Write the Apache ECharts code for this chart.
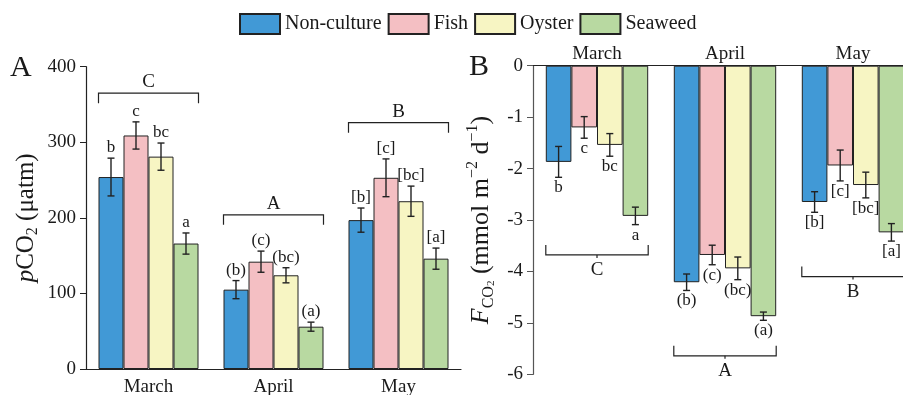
<!DOCTYPE html>
<html><head><meta charset="utf-8">
<script src="https://cdn.jsdelivr.net/npm/echarts@6/dist/echarts.min.js"></script>
<style>html,body{margin:0;padding:0;background:#fff}#c{width:903px;height:395px}</style>
</head><body><div id="c"></div>
<script>
const months = ['March', 'April', 'May'];
const seriesNames = ['Non-culture', 'Fish', 'Oyster', 'Seaweed'];
const colors = ['#4199d6', '#f4bfc3', '#f7f5c3', '#b8d9a1'];

// Panel A: pCO2 (μatm); one row per treatment, one value per month
const pco2 = [[254, 105, 197], [309, 142, 253], [281, 124, 222], [166, 56, 146]];
const pco2Err = [[25, 12, 16], [18, 14, 25], [18, 10, 20], [14, 6, 14]];
const pco2Letters = [['b', '(b)', '[b]'], ['c', '(c)', '[c]'], ['bc', '(bc)', '[bc]'], ['a', '(a)', '[a]']];
const pco2Groups = ['C', 'A', 'B'];
const pco2GroupLevel = [365, 204, 326];
const pco2Ticks = [0, 100, 200, 300, 400];

// Panel B: F_CO2 (mmol m-2 d-1)
const flux = [[-1.87, -4.21, -2.65], [-1.20, -3.68, -1.94], [-1.54, -3.94, -2.32], [-2.92, -4.87, -3.24]];
const fluxErr = [[0.30, 0.16, 0.20], [0.21, 0.19, 0.30], [0.22, 0.22, 0.25], [0.17, 0.08, 0.17]];
const fluxLetters = [['b', '(b)', '[b]'], ['c', '(c)', '[c]'], ['bc', '(bc)', '[bc]'], ['a', '(a)', '[a]']];
const fluxGroups = ['C', 'A', 'B'];
const fluxGroupLevel = [-3.68, -5.64, -4.10];
const fluxTicks = [-6, -5, -4, -3, -2, -1, 0];

const FONT = '"Liberation Serif", "Times New Roman", serif';
const INK = '#1a1a1a';

function errData(vals, errs) {
  const d = [];
  vals.forEach((row, s) => row.forEach((v, m) => d.push([m, s, v, errs[s][m]])));
  return d;
}
function errRender(letters, below) {
  return function (params, api) {
    const m = api.value(0), s = api.value(1), v = api.value(2), e = api.value(3);
    const bw = api.size([1, 0])[0] * 0.8 / 4;
    const c = api.coord([m, v]);
    const x = c[0] + (s - 1.5) * bw;
    const yTop = api.coord([m, v + e])[1];
    const yBot = api.coord([m, v - e])[1];
    const cap = 3.5;
    const st = { stroke: '#222', lineWidth: 1.4 };
    const txt = letters[s][m];
    return {
      type: 'group',
      children: [
        { type: 'line', shape: { x1: x, y1: yTop, x2: x, y2: yBot }, style: st },
        { type: 'line', shape: { x1: x - cap, y1: yTop, x2: x + cap, y2: yTop }, style: st },
        { type: 'line', shape: { x1: x - cap, y1: yBot, x2: x + cap, y2: yBot }, style: st },
        {
          type: 'text', style: {
            text: txt, x: x, y: below ? yBot + 2 : yTop - 2,
            align: 'center', verticalAlign: below ? 'top' : 'bottom',
            font: '17px ' + FONT, fill: INK
          }
        }
      ]
    };
  };
}
function bracketRender(labels, below) {
  return function (params, api) {
    const m = api.value(0), lv = api.value(1);
    const bw = api.size([1, 0])[0] * 0.8 / 4;
    const c = api.coord([m, lv]);
    const x1 = c[0] - 2 * bw, x2 = c[0] + 2 * bw, y = c[1];
    const t = below ? -10 : 10;
    const st = { stroke: '#222', lineWidth: 1.2 };
    const ch = [
      { type: 'polyline', shape: { points: [[x1, y + t], [x1, y], [x2, y], [x2, y + t]] }, style: Object.assign({ fill: null }, st) },
      {
        type: 'text', style: {
          text: labels[m], x: c[0], y: below ? y + 15 : y - 11,
          align: 'center', verticalAlign: 'middle', font: '19px ' + FONT, fill: INK
        }
      }
    ];
    if (below) ch.push({ type: 'line', shape: { x1: c[0], y1: y, x2: c[0], y2: y + 3 }, style: st });
    return { type: 'group', children: ch };
  };
}

const series = [];
seriesNames.forEach((n, s) => {
  series.push({
    type: 'bar', name: n, xAxisIndex: 0, yAxisIndex: 0, data: pco2[s],
    barGap: '0%', barCategoryGap: '20%',
    itemStyle: { color: colors[s], borderColor: '#222', borderWidth: 1 }
  });
});
seriesNames.forEach((n, s) => {
  series.push({
    type: 'bar', name: n, xAxisIndex: 1, yAxisIndex: 1, data: flux[s],
    barGap: '0%', barCategoryGap: '20%',
    itemStyle: { color: colors[s], borderColor: '#222', borderWidth: 1 }
  });
});
series.push({
  type: 'custom', name: 'errA', xAxisIndex: 0, yAxisIndex: 0, clip: false, z: 5,
  data: errData(pco2, pco2Err), encode: { x: 0, y: 2 }, renderItem: errRender(pco2Letters, false)
});
series.push({
  type: 'custom', name: 'errB', xAxisIndex: 1, yAxisIndex: 1, clip: false, z: 5,
  data: errData(flux, fluxErr), encode: { x: 0, y: 2 }, renderItem: errRender(fluxLetters, true)
});
series.push({
  type: 'custom', name: 'brA', xAxisIndex: 0, yAxisIndex: 0, clip: false, z: 5,
  data: pco2GroupLevel.map((v, m) => [m, v]), encode: { x: 0, y: 1 }, renderItem: bracketRender(pco2Groups, false)
});
series.push({
  type: 'custom', name: 'brB', xAxisIndex: 1, yAxisIndex: 1, clip: false, z: 5,
  data: fluxGroupLevel.map((v, m) => [m, v]), encode: { x: 0, y: 1 }, renderItem: bracketRender(fluxGroups, true)
});

const chart = echarts.init(document.getElementById('c'), null, { renderer: 'canvas' });
chart.setOption({
  animation: false,
  backgroundColor: '#fff',
  textStyle: { fontFamily: FONT },
  legend: {
    data: seriesNames, top: 13, left: 239, padding: 0, itemWidth: 40, itemHeight: 20, itemGap: 6,
    icon: 'rect', textStyle: { fontFamily: FONT, fontSize: 20, color: INK }
  },
  graphic: [
    { type: 'text', left: 10, top: 53, style: { text: 'A', font: '30px ' + FONT, fill: INK } },
    { type: 'text', left: 469, top: 52, style: { text: 'B', font: '30px ' + FONT, fill: INK } }
  ],
  grid: [
    { left: 86, top: 66.7, width: 375, height: 302.3, outerBoundsMode: 'none' },
    { left: 533, top: 65.7, width: 384, height: 308.6, outerBoundsMode: 'none' }
  ],
  xAxis: [
    {
      type: 'category', gridIndex: 0, data: months,
      axisLine: { lineStyle: { color: '#222', width: 1.2 } }, axisTick: { show: false },
      axisLabel: { fontFamily: FONT, fontSize: 19, color: INK, margin: 9 }
    },
    {
      type: 'category', gridIndex: 1, data: months, position: 'top',
      axisLine: { onZero: false, lineStyle: { color: '#222', width: 1.2 } }, axisTick: { show: false },
      axisLabel: { fontFamily: FONT, fontSize: 19, color: INK, margin: 2 }
    }
  ],
  yAxis: [
    {
      type: 'value', gridIndex: 0, min: pco2Ticks[0], max: pco2Ticks[pco2Ticks.length - 1], interval: 100,
      splitLine: { show: false },
      axisLine: { show: true, lineStyle: { color: '#222', width: 1.2 } },
      axisTick: { show: true, length: 6, lineStyle: { color: '#222' } },
      axisLabel: { fontFamily: FONT, fontSize: 19, color: INK, margin: 10 },
      name: '{i|p}{n|CO}{s|2}{n| (μatm)}', nameLocation: 'middle', nameGap: 45, nameRotate: 90,
      nameTextStyle: {
        fontFamily: FONT, fontSize: 25, color: INK,
        rich: {
          i: { fontFamily: FONT, fontSize: 25, fontStyle: 'italic', color: INK, lineHeight: 30 },
          n: { fontFamily: FONT, fontSize: 25, color: INK, lineHeight: 30 },
          s: { fontFamily: FONT, fontSize: 16, color: INK, verticalAlign: 'bottom', lineHeight: 16 }
        }
      }
    },
    {
      type: 'value', gridIndex: 1, min: fluxTicks[0], max: fluxTicks[fluxTicks.length - 1], interval: 1,
      splitLine: { show: false },
      axisLine: { show: true, lineStyle: { color: '#555', width: 1.2 } },
      axisTick: { show: true, length: 6, lineStyle: { color: '#555' } },
      axisLabel: { fontFamily: FONT, fontSize: 19, color: INK, margin: 10 },
      name: '{i|F}{s|CO}{ss|2}{n| (mmol m}{sup|−2}{n| d}{sup|−1}{n|)}', nameLocation: 'middle', nameGap: 36, nameRotate: 90,
      nameTextStyle: {
        fontFamily: FONT, fontSize: 26, color: INK,
        rich: {
          i: { fontFamily: FONT, fontSize: 26, fontStyle: 'italic', color: INK, lineHeight: 32 },
          n: { fontFamily: FONT, fontSize: 26, color: INK, lineHeight: 32 },
          s: { fontFamily: FONT, fontSize: 16, color: INK, verticalAlign: 'bottom', lineHeight: 18 },
          ss: { fontFamily: FONT, fontSize: 11, color: INK, verticalAlign: 'bottom', lineHeight: 10 },
          sup: { fontFamily: FONT, fontSize: 16, color: INK, verticalAlign: 'top', lineHeight: 18 }
        }
      }
    }
  ],
  series: series
});
</script>
</body></html>
